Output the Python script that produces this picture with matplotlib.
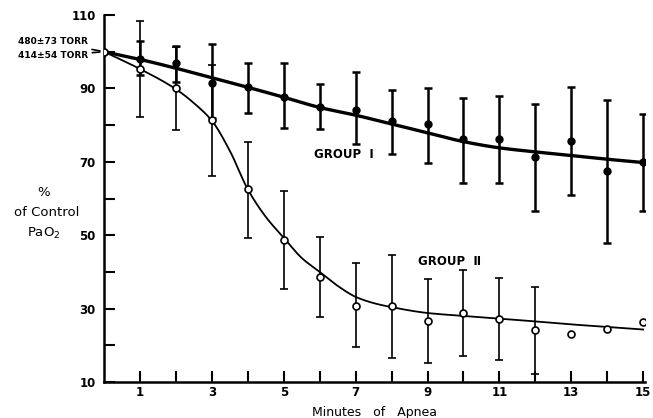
import numpy as np
import matplotlib
matplotlib.use("Agg")
import matplotlib.pyplot as plt

# ---- data ----
minutes = list(range(16))
g1_mean = [100, 98.0, 97.0, 91.4, 90.3, 87.6, 85.0, 84.1, 81.0, 80.2, 76.3, 76.1, 71.2, 75.8, 67.4, 69.9]
g1_hi = [np.nan, 103.0, 101.6, 102.0, 97.0, 96.8, 91.2, 94.6, 89.6, 90.1, 87.5, 87.8, 85.7, 90.5, 86.8, 83.0]
g1_lo = [np.nan, 93.6, 91.7, 82.0, 83.4, 79.1, 78.9, 74.8, 72.1, 69.8, 64.3, 64.3, 56.6, 61.0, 48.0, 56.6]

g2_mean = [100, 95.3, 90.0, 81.4, 62.5, 48.6, 38.5, 30.7, 30.7, 26.7, 28.9, 27.3, 24.1, 23.2, 24.4, 26.4]
g2_hi = [np.nan, 108.4, 101.2, 96.4, 75.5, 62.0, 49.4, 42.3, 44.6, 38.2, 40.4, 38.3, 36.0, np.nan, np.nan, np.nan]
g2_lo = [np.nan, 82.3, 78.7, 66.2, 49.3, 35.3, 27.6, 19.6, 16.6, 15.3, 17.2, 16.0, 12.1, np.nan, np.nan, np.nan]

g1_fit_x = [0, 1, 2, 3, 4, 5, 6, 7, 8, 9, 10, 11, 12, 13, 14, 15]
g1_fit_y = [100, 97.9, 95.5, 92.9, 90.3, 87.6, 84.8, 82.7, 80.3, 77.9, 75.5, 73.8, 72.7, 71.7, 70.7, 69.8]

g2_fit_x = [0, 1, 2, 2.5, 3, 3.5, 4, 4.5, 5, 5.5, 6, 6.5, 7, 7.5, 8, 9, 10, 11, 12, 13, 14, 15]
g2_fit_y = [100, 95.3, 89.8, 86.0, 81.2, 73.0, 62.5, 55.0, 49.3, 43.8, 40.0, 36.2, 33.2, 31.5, 30.4, 28.8, 28.0, 27.3, 26.5, 25.7, 25.0, 24.3]

x_major = [1, 3, 5, 7, 9, 11, 13, 15]
y_major = [10, 30, 50, 70, 90, 110]
label_g1_start = "480±73 TORR"
label_g2_start = "414±54 TORR"


def pchip(xs, ys, n=20):
    """Monotone cubic (Fritsch-Carlson) rendering of a hand-drawn curve."""
    x = np.asarray(xs, float)
    y = np.asarray(ys, float)
    h = np.diff(x)
    d = np.diff(y) / h
    m = np.zeros_like(y)
    for k in range(1, len(x) - 1):
        if d[k - 1] * d[k] <= 0:
            m[k] = 0
        else:
            w1 = 2 * h[k] + h[k - 1]
            w2 = h[k] + 2 * h[k - 1]
            m[k] = (w1 + w2) / (w1 / d[k - 1] + w2 / d[k])
    m[0] = d[0]
    m[-1] = d[-1]
    xo, yo = [], []
    for k in range(len(x) - 1):
        t = np.linspace(0, 1, n, endpoint=False)
        h00 = 2 * t**3 - 3 * t**2 + 1
        h10 = t**3 - 2 * t**2 + t
        h01 = -2 * t**3 + 3 * t**2
        h11 = t**3 - t**2
        xo.append(x[k] + t * h[k])
        yo.append(h00 * y[k] + h10 * h[k] * m[k] + h01 * y[k + 1] + h11 * h[k] * m[k + 1])
    xo.append([x[-1]])
    yo.append([y[-1]])
    return np.concatenate(xo), np.concatenate(yo)


W, H = 653, 418
fig = plt.figure(figsize=(W / 100, H / 100), dpi=100)
ax = fig.add_axes([104 / W, 1 - 382 / H, (645 - 104) / W, (382 - 15) / H])
ax.set_xlim(0, 15.05)
ax.set_ylim(10, 110)

for s in ["top", "right"]:
    ax.spines[s].set_visible(False)
for s in ["left", "bottom"]:
    ax.spines[s].set_linewidth(1.8)

m1 = np.array(g1_mean)
m2 = np.array(g2_mean)
x = np.array(minutes)

# group I error bars
yerr1 = np.vstack([m1 - np.array(g1_lo), np.array(g1_hi) - m1])
ax.errorbar(x, m1, yerr=yerr1, fmt="none", ecolor="black", elinewidth=1.8,
            capsize=3, capthick=1.8, zorder=3)
# group II error bars
yerr2 = np.vstack([m2 - np.array(g2_lo), np.array(g2_hi) - m2])
ax.errorbar(x, m2, yerr=yerr2, fmt="none", ecolor="black", elinewidth=1.2,
            capsize=3, capthick=1.2, zorder=3)

# fitted curves
cx, cy = pchip(g1_fit_x, g1_fit_y)
ax.plot(cx, cy, color="black", lw=2.4, solid_capstyle="round", zorder=4)
cx, cy = pchip(g2_fit_x, g2_fit_y)
ax.plot(cx, cy, color="black", lw=1.3, zorder=4)

# points
ax.plot(x, m1, "o", color="black", ms=5, zorder=5)
ax.plot(x, m2, "o", mfc="white", mec="black", mew=1.2, ms=5, zorder=6)

# ticks
ax.set_xticks(x_major)
ax.set_xticks([m for m in minutes[1:] if m not in x_major], minor=True)
ax.set_yticks(y_major)
ax.set_yticks([v for v in range(20, 110, 20)], minor=True)
ax.tick_params(which="both", direction="in", length=8, width=1.5, color="black")
ax.tick_params(axis="x", which="major", labelsize=8.5, pad=3)
ax.tick_params(axis="y", which="major", labelsize=8.5, pad=6)
for lab in ax.get_xticklabels() + ax.get_yticklabels():
    lab.set_fontweight("bold")

ax.set_xlabel("Minutes   of   Apnea", fontsize=9, labelpad=5)

# y label block
fig.text(44 / W, 1 - 193 / H, "%", ha="center", va="center", fontsize=9.5)
fig.text(47 / W, 1 - 212 / H, "of Control", ha="center", va="center", fontsize=9.5)
fig.text(44 / W, 1 - 233 / H, "PaO$_2$", ha="center", va="center", fontsize=9.5)

# group labels
ax.text(5.85, 72.0, "GROUP  Ⅰ", fontsize=8.5, fontweight="bold", ha="left", va="center")
ax.text(8.73, 42.7, "GROUP  Ⅱ", fontsize=8.5, fontweight="bold", ha="left", va="center")

# starting-value annotations
ax.annotate(label_g1_start, xy=(0, 100), xytext=(18 / W, 1 - 42 / H),
            textcoords="figure fraction", fontsize=6.5, fontweight="bold",
            ha="left", va="center",
            arrowprops=dict(arrowstyle="-", color="black", lw=1.2,
                            shrinkA=1, shrinkB=3), annotation_clip=False)
ax.annotate(label_g2_start, xy=(0, 100), xytext=(18 / W, 1 - 56 / H),
            textcoords="figure fraction", fontsize=6.5, fontweight="bold",
            ha="left", va="center",
            arrowprops=dict(arrowstyle="-", color="black", lw=1.2,
                            shrinkA=1, shrinkB=3), annotation_clip=False)

fig.savefig("out.png", dpi=100)
